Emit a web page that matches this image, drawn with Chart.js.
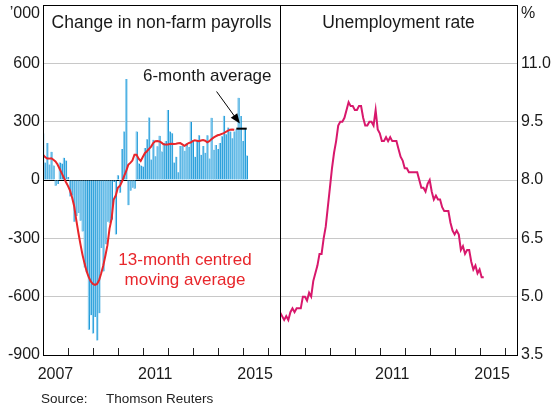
<!DOCTYPE html>
<html>
<head>
<meta charset="utf-8">
<script src="https://cdn.jsdelivr.net/npm/chart.js@4.4.1/dist/chart.umd.min.js"></script>
<style>
  body { margin: 0; background: #fff; }
  #wrap { position: relative; width: 554px; height: 407px; font-family: 'Liberation Sans', Arial, sans-serif; }
  #c1 { position: absolute; left: 0; top: 0; }
  #c2 { position: absolute; left: 270px; top: 0; }
  .src { position: absolute; top: 391px; font-size: 13.5px; color: #222; }
</style>
</head>
<body>
<div id="wrap">
  <canvas id="c1" width="290" height="407"></canvas>
  <canvas id="c2" width="284" height="407"></canvas>
  <span class="src" style="left:41px">Source:</span>
  <span class="src" style="left:106px">Thomson Reuters</span>
</div>
<script>
// months since Jan 2007; axis runs to mid 2016
const firstYear = 2007;
const axisMonths = 114;
const leftYears = [2007, 2011, 2015];
const rightYears = [2011, 2015];

// change in non-farm payrolls, '000, Jan 2007 - Mar 2015
const payrolls = [
  240, 90, 190, 80, 145, 75, -30, -20, 90, 85, 115, 100,
  15, -85, -80, -215, -185, -170, -210, -265, -450, -475, -770, -695,
  -790, -705, -825, -685, -350, -470, -330, -215, -220, -205, -10, -280,
  25, -65, 160, 250, 520, -130, -55, -40, -45, 250, 85, 75,
  70, 165, 210, 322, 105, 207, 122, 173, 228, 147, 190, 200,
  360, 250, 240, 90, 120, 40, 175, 175, 150, 190, 170, 300,
  205, 120, 200, 230, 130, 175, 140, 230, 110, 320, 155, 180,
  160, 190, 225, 330, 235, 270, 250, 215, 250, 261, 423, 329,
  201, 264, 126
];

// 13-month centred moving average, Jan 2007 - Sep 2014
const movingAvg = [
  130, 118, 110, 110, 112, 104, 95, 80, 58, 35, 12, -10,
  -30, -55, -90, -135, -205, -270, -330, -385, -430, -470, -500, -522,
  -535, -540, -535, -515, -480, -440, -390, -335, -250, -200, -100, -80,
  -40, -30, -8, 20, 45, 78, 88, 100, 130, 130, 110, 98,
  118, 138, 148, 160, 172, 190, 199, 200, 198, 192, 184, 182,
  183, 185, 186, 185, 186, 189, 190, 183, 176, 182, 190, 193,
  200, 204, 202, 199, 203, 206, 202, 194, 200, 210, 218, 224,
  230, 233, 237, 241, 248, 254, 259, 260, 259
];

// 6-month average, Oct 2014 - Mar 2015
const sixMonthAvg = 264;
const sixMonthSpan = [93, 98];

// unemployment rate, %, Jan 2007 - Mar 2015
const unemployment = [
  4.6, 4.5, 4.4, 4.5, 4.4, 4.6, 4.7, 4.6, 4.7, 4.7, 4.7, 5.0,
  5.0, 4.9, 5.1, 5.0, 5.4, 5.6, 5.8, 6.1, 6.1, 6.5, 6.8, 7.3,
  7.8, 8.3, 8.7, 9.0, 9.4, 9.5, 9.5, 9.6, 9.8, 10.0, 9.9, 9.9,
  9.8, 9.8, 9.9, 9.9, 9.6, 9.4, 9.4, 9.5, 9.5, 9.4, 9.8, 9.3,
  9.2, 9.0, 9.0, 9.1, 9.0, 9.1, 9.0, 9.0, 9.0, 8.8, 8.6, 8.5,
  8.3, 8.3, 8.2, 8.2, 8.2, 8.2, 8.2, 8.0, 7.8, 7.8, 7.7, 7.9,
  8.0, 7.7, 7.5, 7.6, 7.5, 7.5, 7.3, 7.2, 7.2, 7.2, 6.9, 6.7,
  6.6, 6.7, 6.6, 6.2, 6.3, 6.1, 6.2, 6.2, 5.9, 5.7, 5.8, 5.6,
  5.7, 5.5, 5.5
];

const font = "'Liberation Sans', Arial, sans-serif";
const textCol = '#1a1a1a';
const pts = arr => arr.map((v, i) => ({ x: i, y: v }));

function noPad(s) {
  s.paddingTop = 0; s.paddingBottom = 0; s.paddingLeft = 0; s.paddingRight = 0;
}

function xAxis(years) {
  return {
    type: 'linear', min: 0, max: axisMonths, offset: false,
    grid: { display: false, drawTicks: false }, border: { display: false },
    afterBuildTicks(s) { s.ticks = years.map(y => ({ value: (y - firstYear) * 12 + 6 })); },
    afterFit(s) { s.height = 52; noPad(s); },
    ticks: { autoSkip: false, maxRotation: 0, padding: 10, color: textCol,
      font: { family: font, size: 16 },
      callback: v => String(firstYear + (v - 6) / 12) }
  };
}

// frame, inward year ticks, and text/arrow annotations
const panelDecor = {
  id: 'panelDecor',
  afterDraw(chart, args, o) {
    const { ctx, chartArea: a, scales: { x, y } } = chart;
    ctx.save();
    ctx.strokeStyle = '#222';
    ctx.lineWidth = 1;
    for (let m = 12; m < axisMonths; m += 12) {
      const px = Math.round(x.getPixelForValue(m)) + 0.5;
      ctx.beginPath();
      ctx.moveTo(px, a.bottom);
      ctx.lineTo(px, a.bottom - 7);
      ctx.stroke();
    }
    ctx.strokeStyle = '#000';
    ctx.strokeRect(Math.round(a.left) + 0.5, Math.round(a.top) + 0.5,
      Math.round(a.right - a.left), Math.round(a.bottom - a.top));

    ctx.font = '17.5px ' + font;
    ctx.fillStyle = textCol;
    ctx.textAlign = 'center';
    ctx.textBaseline = 'middle';
    ctx.fillText(o.title, (a.left + a.right) / 2, a.top + 18);

    ctx.font = '16px ' + font;
    ctx.textAlign = o.unitSide === 'left' ? 'right' : 'left';
    ctx.fillText(o.unit, o.unitSide === 'left' ? a.left - 3 : a.right + 4, a.top + 9);

    (o.notes || []).forEach(n => {
      ctx.font = '17px ' + font;
      ctx.fillStyle = n.color;
      ctx.textAlign = 'center';
      ctx.fillText(n.text, x.getPixelForValue(n.x), y.getPixelForValue(n.y));
    });

    if (o.arrow) {
      const x0 = x.getPixelForValue(o.arrow.from[0]), y0 = y.getPixelForValue(o.arrow.from[1]);
      const x1 = x.getPixelForValue(o.arrow.to[0]), y1 = y.getPixelForValue(o.arrow.to[1]);
      const ang = Math.atan2(y1 - y0, x1 - x0);
      ctx.strokeStyle = '#000';
      ctx.fillStyle = '#000';
      ctx.lineWidth = 1;
      ctx.beginPath();
      ctx.moveTo(x0, y0);
      ctx.lineTo(x1 - 6 * Math.cos(ang), y1 - 6 * Math.sin(ang));
      ctx.stroke();
      ctx.beginPath();
      ctx.moveTo(x1, y1);
      ctx.lineTo(x1 - 10 * Math.cos(ang) + 4 * Math.sin(ang), y1 - 10 * Math.sin(ang) - 4 * Math.cos(ang));
      ctx.lineTo(x1 - 10 * Math.cos(ang) - 4 * Math.sin(ang), y1 - 10 * Math.sin(ang) + 4 * Math.cos(ang));
      ctx.closePath();
      ctx.fill();
    }
    ctx.restore();
  }
};

new Chart(document.getElementById('c1'), {
  type: 'bar',
  data: {
    datasets: [
      {
        type: 'line', data: [{ x: sixMonthSpan[0], y: sixMonthAvg }, { x: sixMonthSpan[1], y: sixMonthAvg }],
        borderColor: '#000', borderWidth: 2, pointRadius: 0, order: 1
      },
      {
        type: 'line', data: pts(movingAvg), borderColor: '#e8262b', borderWidth: 2,
        pointRadius: 0, tension: 0, order: 2
      },
      {
        type: 'bar', data: pts(payrolls), backgroundColor: '#8ccdef',
        borderColor: '#1596d6', borderWidth: { left: 0, right: 1, top: 0, bottom: 0 },
        barPercentage: 1, categoryPercentage: 1, order: 3
      }
    ]
  },
  options: {
    responsive: false, animation: false,
    layout: { padding: { top: 5, right: 10, left: 0, bottom: 0 } },
    plugins: {
      legend: { display: false }, tooltip: { enabled: false },
      panelDecor: {
        title: 'Change in non-farm payrolls', unit: '\u2019000', unitSide: 'left',
        notes: [
          { text: '6-month average', x: 79, y: 533, color: textCol },
          { text: '13-month centred', x: 68.3, y: -411, color: '#e8262b' },
          { text: 'moving average', x: 68.3, y: -514, color: '#e8262b' }
        ],
        arrow: { from: [83.5, 455], to: [94.7, 290] }
      }
    },
    scales: {
      x: xAxis(leftYears),
      y: {
        min: -900, max: 900,
        afterFit(s) { s.width = 43; noPad(s); },
        grid: { drawTicks: false, color: c => c.tick && c.tick.value === 0 ? '#000' : '#c8c8c8' },
        border: { display: false },
        ticks: { stepSize: 300, padding: 3, color: textCol, font: { family: font, size: 16 },
          callback: v => v === 900 ? '' : String(v) }
      }
    }
  },
  plugins: [panelDecor]
});

new Chart(document.getElementById('c2'), {
  type: 'line',
  data: {
    datasets: [{
      data: pts(unemployment), borderColor: '#d8186c', borderWidth: 2,
      pointRadius: 0, tension: 0
    }]
  },
  options: {
    responsive: false, animation: false,
    layout: { padding: { top: 5, right: 0, left: 10, bottom: 0 } },
    plugins: {
      legend: { display: false }, tooltip: { enabled: false },
      panelDecor: { title: 'Unemployment rate', unit: '%', unitSide: 'right' }
    },
    scales: {
      x: xAxis(rightYears),
      y: {
        position: 'right', min: 3.5, max: 12.5,
        afterFit(s) { s.width = 37; noPad(s); },
        grid: { drawTicks: false, color: '#c8c8c8' },
        border: { display: false },
        ticks: { stepSize: 1.5, padding: 4, color: textCol, font: { family: font, size: 16 },
          callback: v => v >= 12.4 ? '' : v.toFixed(1) }
      }
    }
  },
  plugins: [panelDecor]
});
</script>
</body>
</html>
